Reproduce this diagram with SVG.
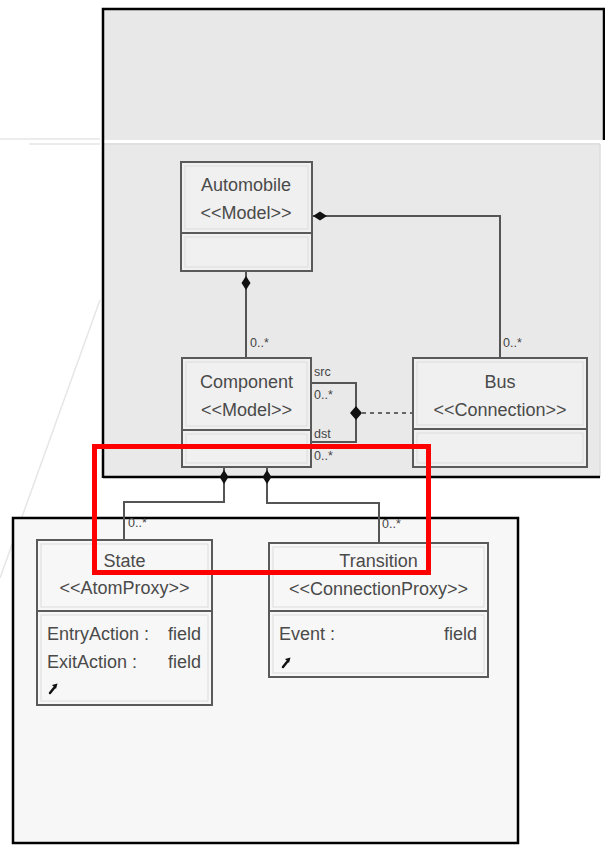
<svg xmlns="http://www.w3.org/2000/svg" width="605" height="850" viewBox="0 0 605 850">
  <defs>
    <style>
      .panel-edge { stroke: #000; stroke-width: 2.5; fill: none; }
      .box { fill: #f0f0f0; stroke: #5a5a5a; stroke-width: 2; }
      .box-lo { fill: #f7f7f7; stroke: #5a5a5a; stroke-width: 2; }
      .inset { fill: none; stroke: #dcdcdc; stroke-width: 1; }
      .title { font-family: "Liberation Sans", Arial, sans-serif; font-size: 18px; fill: #4a4a4a; text-anchor: middle; }
      .field { font-family: "Liberation Sans", Arial, sans-serif; font-size: 18px; fill: #4a4a4a; }
      .field-r { font-family: "Liberation Sans", Arial, sans-serif; font-size: 18px; fill: #4a4a4a; text-anchor: end; }
      .mult { font-family: "Liberation Sans", Arial, sans-serif; font-size: 12.5px; fill: #444; }
      .wire { fill: none; stroke: #555; stroke-width: 2; }
      .dash { fill: none; stroke: #666; stroke-width: 2; stroke-dasharray: 4 4; }
      .diamond { fill: #111; }
      .faint { stroke: #e6e6e6; stroke-width: 1.5; fill: none; }
      .hl { fill: none; stroke: #ff0000; stroke-width: 5; }
      .icon-stem { stroke: #111; stroke-width: 2.5; stroke-linecap: round; }
    </style>
  </defs>

  <!-- page background -->
  <rect x="0" y="0" width="605" height="850" fill="#ffffff"/>

  <!-- faint guide lines on the left -->
  <line class="faint" x1="0" y1="139" x2="100" y2="139"/>
  <line class="faint" x1="29" y1="144" x2="100" y2="144"/>
  <line class="faint" x1="100" y1="300" x2="0" y2="578"/>

  <!-- upper panel -->
  <rect x="103" y="9" width="501" height="131" fill="#e8e8e8"/>
  <rect x="103" y="143" width="497" height="335" fill="#e9e9e9"/>
  <line x1="104" y1="144" x2="600" y2="144" stroke="#dddddd" stroke-width="1.5"/>
  <line x1="600" y1="144" x2="600" y2="477" stroke="#dddddd" stroke-width="1.5"/>
  <path class="panel-edge" d="M103,478 V9 H604 V140"/>
  <line class="panel-edge" x1="103" y1="477" x2="600" y2="477"/>

  <!-- lower panel -->
  <rect x="13" y="518" width="505" height="325" class="panel-edge" style="fill:#f7f7f7"/>

  <!-- connectors -->
  <g id="connectors">
    <!-- Automobile to Component -->
    <line class="wire" x1="246" y1="271" x2="246" y2="358"/>
    <polygon class="diamond" points="246,276 250.5,283 246,290 241.5,283"/>
    <text class="mult" x="250" y="347">0..*</text>

    <!-- Automobile to Bus -->
    <path class="wire" d="M312,216 H500 V358"/>
    <polygon class="diamond" points="313,216 320,211.5 327,216 320,220.5"/>
    <text class="mult" x="503" y="347">0..*</text>

    <!-- Bus src/dst loop on Component -->
    <path class="wire" d="M311,383 H356 V442 H311"/>
    <polygon class="diamond" points="356,406 362,413 356,420 350,413"/>
    <line class="dash" x1="362" y1="413" x2="413" y2="413"/>
    <text class="mult" x="314" y="376">src</text>
    <text class="mult" x="314" y="399">0..*</text>
    <text class="mult" x="314" y="438">dst</text>
    <text class="mult" x="314" y="460">0..*</text>

    <!-- Component to State -->
    <path class="wire" d="M224,467 V502 H124 V540"/>
    <polygon class="diamond" points="224,470 228.5,477 224,484 219.5,477"/>
    <text class="mult" x="128" y="527">0..*</text>

    <!-- Component to Transition -->
    <path class="wire" d="M267,467 V503 H379 V543"/>
    <polygon class="diamond" points="267,470 271.5,477 267,484 262.5,477"/>
    <text class="mult" x="382" y="528">0..*</text>
  </g>

  <!-- Automobile -->
  <g id="automobile">
    <rect class="box" x="181" y="162" width="131" height="109"/>
    <rect class="inset" x="185" y="166" width="123" height="63"/>
    <rect class="inset" x="185" y="237" width="123" height="30"/>
    <line x1="181" y1="233" x2="312" y2="233" stroke="#5a5a5a" stroke-width="2"/>
    <text class="title" x="246" y="191">Automobile</text>
    <text class="title" x="246" y="219">&lt;&lt;Model&gt;&gt;</text>
  </g>

  <!-- Component -->
  <g id="component">
    <rect class="box" x="182" y="358" width="129" height="109"/>
    <rect class="inset" x="186" y="362" width="121" height="64"/>
    <rect class="inset" x="186" y="434" width="121" height="29"/>
    <line x1="182" y1="430" x2="311" y2="430" stroke="#5a5a5a" stroke-width="2"/>
    <text class="title" x="246.5" y="388">Component</text>
    <text class="title" x="246.5" y="416">&lt;&lt;Model&gt;&gt;</text>
  </g>

  <!-- Bus -->
  <g id="bus">
    <rect class="box" x="413" y="358" width="174" height="109"/>
    <rect class="inset" x="417" y="362" width="166" height="63"/>
    <rect class="inset" x="417" y="433" width="166" height="30"/>
    <line x1="413" y1="429" x2="587" y2="429" stroke="#5a5a5a" stroke-width="2"/>
    <text class="title" x="500" y="388">Bus</text>
    <text class="title" x="500" y="416">&lt;&lt;Connection&gt;&gt;</text>
  </g>

  <!-- State -->
  <g id="state">
    <rect class="box-lo" x="37" y="540" width="175" height="165"/>
    <rect class="inset" x="41" y="544" width="167" height="63"/>
    <rect class="inset" x="41" y="615" width="167" height="86"/>
    <line x1="37" y1="611" x2="212" y2="611" stroke="#5a5a5a" stroke-width="2"/>
    <text class="title" x="124.5" y="567">State</text>
    <text class="title" x="124.5" y="594">&lt;&lt;AtomProxy&gt;&gt;</text>
    <text class="field" x="47" y="640">EntryAction :</text>
    <text class="field-r" x="201" y="640">field</text>
    <text class="field" x="47" y="668">ExitAction :</text>
    <text class="field-r" x="201" y="668">field</text>
    <!-- edit handle -->
    <line class="icon-stem" x1="50" y1="693" x2="54" y2="688"/>
    <polygon points="52,685 57.5,683.5 56,689" fill="#111"/>
  </g>

  <!-- Transition -->
  <g id="transition">
    <rect class="box-lo" x="269" y="543" width="219" height="134"/>
    <rect class="inset" x="273" y="547" width="211" height="60"/>
    <rect class="inset" x="273" y="615" width="211" height="58"/>
    <line x1="269" y1="611" x2="488" y2="611" stroke="#5a5a5a" stroke-width="2"/>
    <text class="title" x="378.5" y="567">Transition</text>
    <text class="title" x="378.5" y="595">&lt;&lt;ConnectionProxy&gt;&gt;</text>
    <text class="field" x="279" y="640">Event :</text>
    <text class="field-r" x="477" y="640">field</text>
    <!-- edit handle -->
    <line class="icon-stem" x1="283" y1="667" x2="287" y2="662"/>
    <polygon points="285,659 290.5,657.5 289,663" fill="#111"/>
  </g>

  <!-- highlight frame -->
  <rect class="hl" x="94.5" y="446.5" width="334" height="126"/>
</svg>
